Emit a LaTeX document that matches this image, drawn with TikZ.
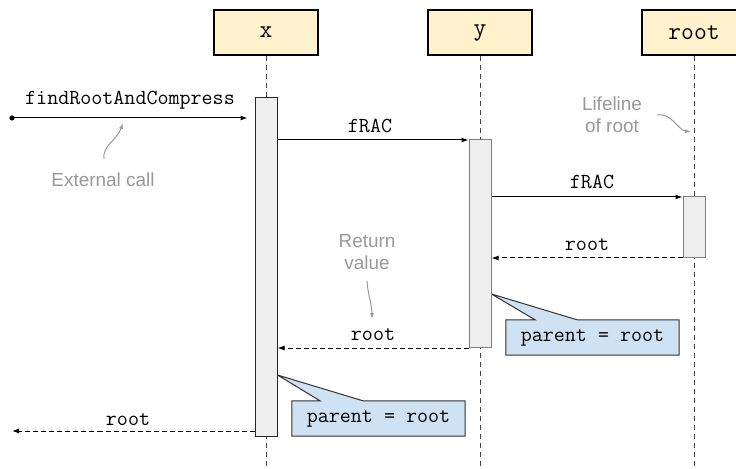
\documentclass[tikz,border=0pt]{standalone}
\usepackage{fontspec}
\setmainfont{Liberation Sans}
\usetikzlibrary{arrows.meta,calc}
\pgfdeclarelayer{bg}
\pgfsetlayers{bg,main}
\definecolor{boxfill}{HTML}{FFF2CC}
\definecolor{actfill}{HTML}{EEEEEE}
\definecolor{notefill}{HTML}{CFE2F3}
\definecolor{anno}{HTML}{999999}
\definecolor{life}{HTML}{444444}
\begin{document}
\begin{tikzpicture}[x=1bp,y=-1bp,
 objbox/.style={draw=black, line width=1.8bp, fill=boxfill, minimum width=104bp, minimum height=45bp, inner sep=0pt, font=\ttfamily\fontsize{25}{28}\selectfont},
 lifeline/.style={draw=life, line width=1bp, dash pattern=on 5bp off 4bp},
 act/.style={draw=black!85, line width=1bp, fill=actfill, minimum width=22bp, inner sep=0pt},
 actg/.style={act, draw=black!50},
 call/.style={draw=black, line width=1bp, -{Latex[length=7bp,width=5bp]}},
 ret/.style={call, dash pattern=on 5bp off 3bp},
 lbl/.style={font=\ttfamily\fontsize{21.5}{24}\selectfont, anchor=base, inner sep=0pt},
 note/.style={font=\ttfamily\fontsize{21.5}{24}\selectfont, minimum width=173bp, minimum height=35bp, inner sep=0pt},
 notebg/.style={fill=notefill, draw=black!80, line width=1bp},
 annot/.style={font=\fontsize{19}{22.5}\selectfont, text=anno, align=center, inner sep=0pt},
 annarrow/.style={draw=anno, line width=1bp, -{Latex[length=6bp,width=4bp]}},
]
\useasboundingbox (0,0) rectangle (736,469);

% object boxes
\node[objbox] (bx) at (266,32.5) {x};
\node[objbox] (by) at (480,32.5) {y};
\node[objbox] (br) at (694,32.5) {root};

% bottoms of lifelines
\coordinate (xbot) at (266,472);
\coordinate (ybot) at (480,472);
\coordinate (rbot) at (694,472);
\draw[lifeline] (bx.south) -- (xbot);
\draw[lifeline] (by.south) -- (ybot);
\draw[lifeline] (br.south) -- (rbot);

% activations
\node[act, minimum height=338bp] (xact) at (266,267) {};
\node[actg, minimum height=207bp] (yact) at (480,243.5) {};
\node[actg, minimum height=61bp] (ract) at (694,227.5) {};

% external call
\coordinate (ext) at (12,118);
\coordinate (extout) at (12,431);
\draw[call, shorten >=7bp] (ext) -- (xact.west |- 0,118);
\fill (ext) circle (2.6bp);
\node[lbl] (lext) at (130,105) {findRootAndCompress};

% fRAC calls
\draw[call] (xact.east |- 0,140) -- (yact.west |- 0,140);
\node[lbl] (lf1) at (370,133) {fRAC};
\draw[call] (yact.east |- 0,197) -- (ract.west |- 0,197);
\node[lbl] (lf2) at (592,189) {fRAC};

% returns
\draw[ret] (ract.west |- 0,258) -- (yact.east |- 0,258);
\node[lbl] (lr1) at (587,251) {root};
\draw[ret] (yact.west |- 0,348) -- (xact.east |- 0,348);
\node[lbl] (lr2) at (373,341) {root};
\draw[ret] (xact.west |- 0,431) -- (extout);
\node[lbl] (lr3) at (128,425) {root};

% notes
\node[note] (n1) at (378.5,418.5) {parent = root};
\node[note] (n2) at (592.5,337.5) {parent = root};
\begin{pgfonlayer}{bg}
\draw[notebg] (n1.north west) -- (n1.north west -| 320,0) -- (xact.east |- 0,375)
  -- (n1.north west -| 363,0) -- (n1.north east) -- (n1.south east) -- (n1.south west) -- cycle;
\draw[notebg] (n2.north west) -- (n2.north west -| 535,0) -- (yact.east |- 0,294)
  -- (n2.north west -| 577,0) -- (n2.north east) -- (n2.south east) -- (n2.south west) -- cycle;
\end{pgfonlayer}

% annotations
\node[annot] (aext) at (103,180) {External call};
\coordinate (aext1) at (104,159);
\coordinate (aext2) at (123,123);
\draw[annarrow] (aext1) .. controls (102,146) and (117,140) .. (aext2);

\node[annot] (alife) at (612,115) {Lifeline\\of root};
\coordinate (alife1) at (657,115);
\coordinate (alife2) at (691,132);
\draw[annarrow] (alife1) .. controls (671,112) and (678,130) .. (alife2);

\node[annot] (aret) at (367,252) {Return\\value};
\coordinate (aret1) at (367,281);
\coordinate (aret2) at (372,319);
\draw[annarrow] (aret1) .. controls (368,296) and (372,305) .. (aret2);
\end{tikzpicture}
\end{document}
